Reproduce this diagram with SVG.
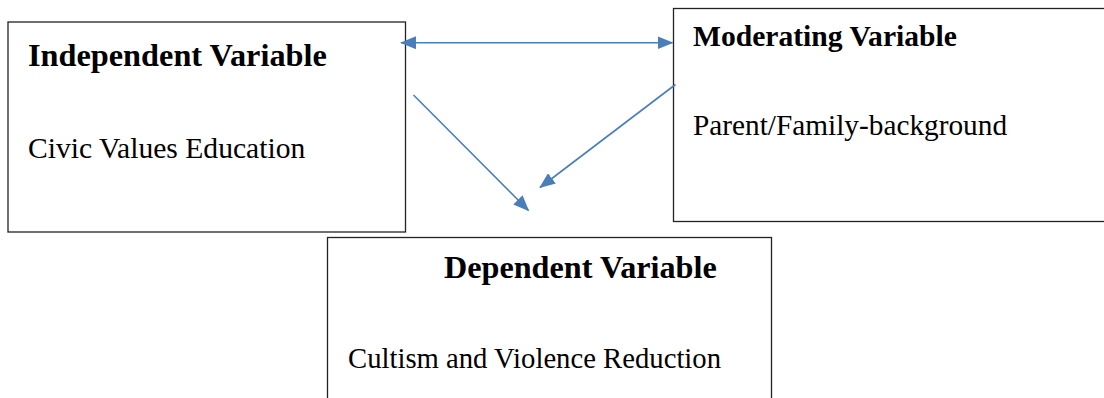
<svg xmlns="http://www.w3.org/2000/svg" width="1104" height="398" viewBox="0 0 1104 398">
<style>
.box{fill:#fff;stroke:#222;stroke-width:1.3}
.h{font-family:"Liberation Serif","Times New Roman",serif;font-weight:bold;fill:#000}
.t{font-family:"Liberation Serif","Times New Roman",serif;fill:#000}
.c{stroke:#4a7ebb;stroke-width:1.6;fill:none}
</style>
<defs>
<marker id="ah" markerUnits="userSpaceOnUse" markerWidth="16" markerHeight="13" refX="15" refY="6.5" orient="auto-start-reverse" viewBox="0 0 16 13">
<path d="M0,0 L16,6.5 L0,13 Z" fill="#4a7ebb"/>
</marker>
</defs>
<rect width="1104" height="398" fill="#fff"/>
<g id="node-independent">
<rect class="box" x="8" y="22" width="397.5" height="210"/>
<text class="h" x="28" y="66" font-size="32.3">Independent Variable</text>
<text class="t" x="28" y="157.5" font-size="29.6">Civic Values Education</text>
</g>
<g id="node-moderating">
<rect class="box" x="673.5" y="8.5" width="440" height="213"/>
<text class="h" x="693" y="46" font-size="29.6">Moderating Variable</text>
<text class="t" x="693" y="134.5" font-size="29.3">Parent/Family-background</text>
</g>
<g id="node-dependent">
<rect class="box" x="327.5" y="237.5" width="444" height="180"/>
<text class="h" x="444" y="278" font-size="32.2">Dependent Variable</text>
<text class="t" x="348" y="368" font-size="28.7">Cultism and Violence Reduction</text>
</g>
<g id="connectors">
<line class="c" x1="401" y1="42.7" x2="672.5" y2="42.7" marker-start="url(#ah)" marker-end="url(#ah)"/>
<line class="c" x1="413.5" y1="95" x2="528.5" y2="210.5" marker-end="url(#ah)"/>
<line class="c" x1="675.5" y1="84.5" x2="540" y2="187.5" marker-end="url(#ah)"/>
</g>
</svg>
